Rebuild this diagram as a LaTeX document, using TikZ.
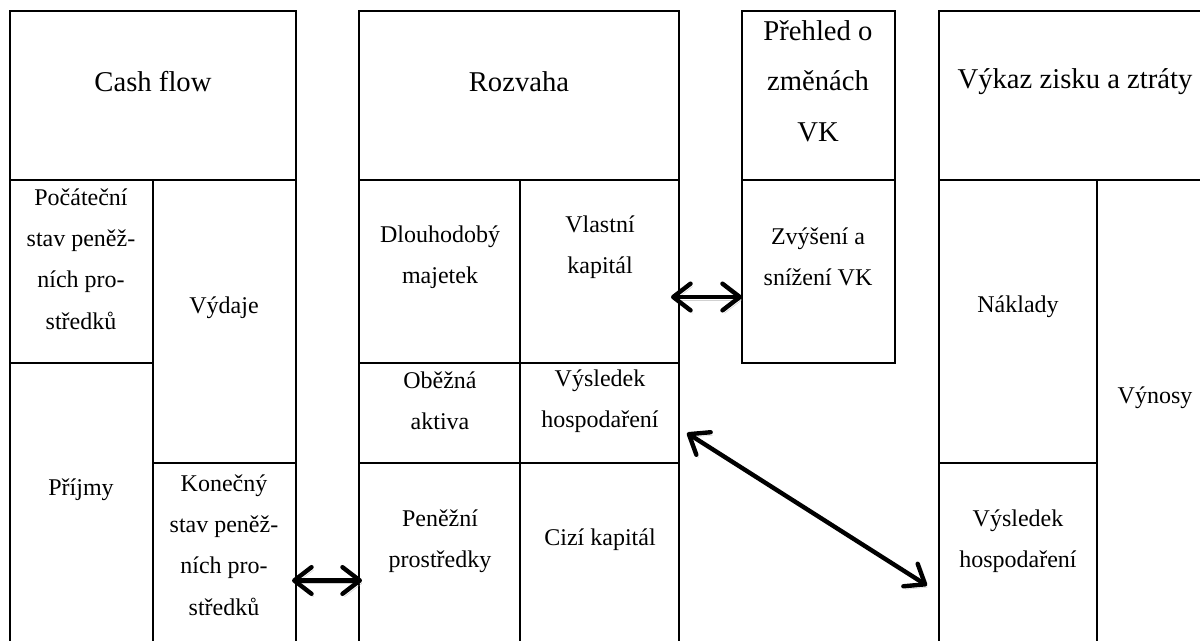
\documentclass[tikz,border=0pt]{standalone}
\usepackage{fontspec}
\setmainfont{Liberation Serif}
\usetikzlibrary{fit,arrows.meta}

\tikzset{
    box/.style={draw, line width=2pt, inner sep=0pt, outer sep=0pt},
    headtext/.style={align=center, inner sep=0pt, font=\fontsize{21.5pt}{38pt}\selectfont},
    celltext/.style={align=center, inner sep=0pt, font=\fontsize{18pt}{31pt}\selectfont},
    link/.style={line width=3.3pt, line cap=round, >={Straight Barb[length=13pt,width=20pt,round]}, <->,
        preaction={draw=black!40, opacity=0.45, transform canvas={shift={(1.5pt,-2.2pt)}}}}
}

\begin{document}
\begin{tikzpicture}[x=0.75pt, y=-0.75pt]

        % Define Page Frame
        \useasboundingbox (0,0) rectangle (1200,640);
        \clip (0,0) rectangle (1200,640);

        % Cash flow
        \node[box, fit={(10,11) (296,180)}] (cfHead) {};
        \node[box, fit={(10,180) (153,363)}] (cfBegin) {};
        \node[box, fit={(153,180) (296,463)}] (cfOut) {};
        \node[box, fit={(10,363) (153,665)}] (cfIn) {};
        \node[box, fit={(153,463) (296,665)}] (cfEnd) {};
        \node[headtext] (tCfHead) at (153,82) {Cash flow};
        \node[celltext] (tCfBegin) at (81,259) {Počáteční\\stav peněž-\\ních pro-\\středků};
        \node[celltext] (tCfOut) at (224,308) {Výdaje};
        \node[celltext] (tCfIn) at (81,490) {Příjmy};
        \node[celltext] (tCfEnd) at (224,545) {Konečný\\stav peněž-\\ních pro-\\středků};

        % Rozvaha
        \node[box, fit={(359,11) (679,180)}] (rzHead) {};
        \node[box, fit={(359,180) (520,363)}] (rzFixed) {};
        \node[box, fit={(520,180) (679,363)}] (rzEquity) {};
        \node[box, fit={(359,363) (520,463)}] (rzCurrent) {};
        \node[box, fit={(520,363) (679,463)}] (rzResult) {};
        \node[box, fit={(359,463) (520,665)}] (rzCash) {};
        \node[box, fit={(520,463) (679,665)}] (rzDebt) {};
        \node[headtext] (tRzHead) at (519,82) {Rozvaha};
        \node[celltext] (tRzFixed) at (440,257) {Dlouhodobý\\majetek};
        \node[celltext] (tRzEquity) at (600,247) {Vlastní\\kapitál};
        \node[celltext] (tRzCurrent) at (440,401) {Oběžná\\aktiva};
        \node[celltext] (tRzResult) at (600,401) {Výsledek\\hospodaření};
        \node[celltext] (tRzCash) at (440,541) {Peněžní\\prostředky};
        \node[celltext] (tRzDebt) at (600,540) {Cizí kapitál};

        % Prehled o zmenach VK
        \node[box, fit={(742,11) (895,180)}] (vkHead) {};
        \node[box, fit={(742,180) (895,363)}] (vkChange) {};
        \node[headtext] (tVkHead) at (818,81) {Přehled o\\změnách\\VK};
        \node[celltext] (tVkChange) at (818,257) {Zvýšení a\\snížení VK};

        % Vykaz zisku a ztraty
        \node[box, fit={(939,11) (1215,180)}] (plHead) {};
        \node[box, fit={(939,180) (1097,463)}] (plCost) {};
        \node[box, fit={(939,463) (1097,665)}] (plResult) {};
        \node[box, fit={(1097,180) (1215,665)}] (plRevenue) {};
        \node[headtext] (tPlHead) at (1075,82) {Výkaz zisku a ztráty};
        \node[celltext] (tPlCost) at (1018,307) {Náklady};
        \node[celltext] (tPlResult) at (1018,541) {Výsledek\\hospodaření};
        \node[celltext] (tPlRevenue) at (1155,398) {Výnosy};

        % Links between statements
        \draw[link] ([shift={(-4,16.5)}]cfEnd.east) -- ([shift={(3,16.5)}]rzCash.west);
        \draw[link] ([shift={(-8,25.5)}]rzEquity.east) -- ([shift={(0,25.5)}]vkChange.west);
        \draw[link] ([shift={(8,20)}]rzResult.east) -- ([shift={(-12,21.5)}]plResult.west);

    \end{tikzpicture}
\end{document}
